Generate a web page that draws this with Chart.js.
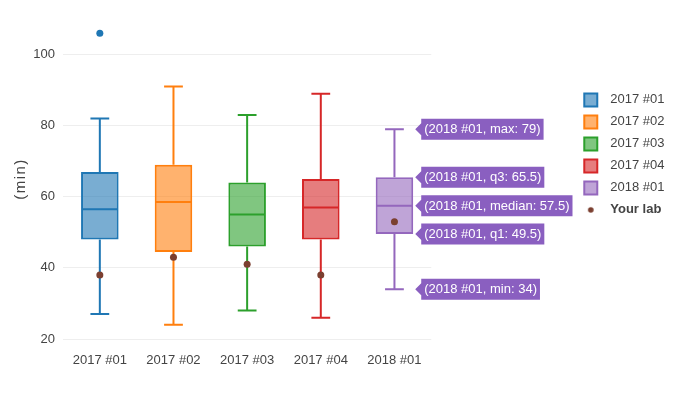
<!DOCTYPE html>
<html>
<head>
<meta charset="utf-8">
<script src="https://cdn.jsdelivr.net/npm/chart.js@4.4.1/dist/chart.umd.min.js"></script>
<style>
    html, body { margin: 0; padding: 0; background: #fff; }
    #wrap { width: 689px; height: 396px; }
</style>
</head>
<body>
<div id="wrap"><canvas id="boxChart"></canvas></div>
<script>
const categories = ['2017 #01', '2017 #02', '2017 #03', '2017 #04', '2018 #01'];
const mins = [27, 24, 28, 26, 34];
const q1s = [48, 44.5, 46, 48, 49.5];
const medians = [56.5, 58.5, 55, 57, 57.5];
const q3s = [67, 69, 64, 65, 65.5];
const maxs = [82, 91, 83, 89, 79];
const outliers = [106, null, null, null, null];
const yourLab = [38, 43, 41, 38, 53];
const yTicks = [20, 40, 60, 80, 100];

const colors = ['#1f77b4', '#ff7f0e', '#2ca02c', '#d62728', '#9467bd'];
const fills = ['rgba(31,119,180,0.6)', 'rgba(255,127,14,0.6)', 'rgba(44,160,44,0.6)', 'rgba(214,39,40,0.6)', 'rgba(148,103,189,0.6)'];
const labColor = '#7b3f30';
const hoverColor = '#8a5fc0';
const fontFamily = '"Liberation Sans", Arial, Helvetica, sans-serif';

// small dot for the "Your lab" legend entry
const dot = document.createElement('canvas');
dot.width = 8;
dot.height = 8;
const dctx = dot.getContext('2d');
dctx.fillStyle = labColor;
dctx.beginPath();
dctx.arc(4, 4, 2.8, 0, Math.PI * 2);
dctx.fill();

const boxDatasets = categories.map((name, i) => ({
    type: 'bar',
    label: name,
    data: categories.map((_, j) => (j === i ? [q1s[i], q3s[i]] : null)),
    backgroundColor: fills[i],
    borderColor: colors[i],
    borderWidth: 2,
    borderSkipped: false,
    grouped: false,
    categoryPercentage: 1,
    barPercentage: 0.51,
    order: 1,
}));

const whiskers = {
    id: 'whiskers',
    afterDatasetDraw(chart, args) {
        const i = args.index;
        if (i >= categories.length) {
            return;
        }
        const bar = args.meta.data[i];
        if (!bar) {
            return;
        }
        const y = chart.scales.y;
        const ctx = chart.ctx;
        const half = bar.width / 2;
        const cap = half / 2;
        ctx.save();
        ctx.strokeStyle = colors[i];
        ctx.lineWidth = 2;
        ctx.beginPath();
        ctx.moveTo(bar.x, y.getPixelForValue(q3s[i]));
        ctx.lineTo(bar.x, y.getPixelForValue(maxs[i]));
        ctx.moveTo(bar.x, y.getPixelForValue(q1s[i]));
        ctx.lineTo(bar.x, y.getPixelForValue(mins[i]));
        ctx.moveTo(bar.x - cap, y.getPixelForValue(maxs[i]));
        ctx.lineTo(bar.x + cap, y.getPixelForValue(maxs[i]));
        ctx.moveTo(bar.x - cap, y.getPixelForValue(mins[i]));
        ctx.lineTo(bar.x + cap, y.getPixelForValue(mins[i]));
        ctx.moveTo(bar.x - half + 1, y.getPixelForValue(medians[i]));
        ctx.lineTo(bar.x + half - 1, y.getPixelForValue(medians[i]));
        ctx.stroke();
        ctx.restore();
    }
};

const extras = {
    id: 'extras',
    afterDraw(chart) {
        const ctx = chart.ctx;
        const y = chart.scales.y;

        // y axis title with letter spacing
        ctx.save();
        ctx.translate(21, (chart.chartArea.top + chart.chartArea.bottom) / 2);
        ctx.rotate(-Math.PI / 2);
        ctx.font = '15px ' + fontFamily;
        ctx.letterSpacing = '1.5px';
        ctx.fillStyle = '#444';
        ctx.textAlign = 'center';
        ctx.textBaseline = 'middle';
        ctx.fillText('(min)', 0, 0);
        ctx.restore();

        // hover labels on the last box
        const last = categories.length - 1;
        const bar = chart.getDatasetMeta(last).data[last];
        const name = categories[last];
        const labels = [
            ['max', maxs[last]],
            ['q3', q3s[last]],
            ['median', medians[last]],
            ['q1', q1s[last]],
            ['min', mins[last]],
        ];
        const x0 = bar.x + bar.width / 2 + 2;
        ctx.save();
        ctx.font = '13px ' + fontFamily;
        ctx.textBaseline = 'middle';
        labels.forEach(([key, value]) => {
            const text = `(${name}, ${key}: ${value})`;
            const yy = y.getPixelForValue(value);
            const w = ctx.measureText(text).width + 6;
            const h = 21;
            ctx.fillStyle = hoverColor;
            ctx.beginPath();
            ctx.moveTo(x0, yy);
            ctx.lineTo(x0 + 6, yy - 6);
            ctx.lineTo(x0 + 6, yy - h / 2);
            ctx.lineTo(x0 + 6 + w, yy - h / 2);
            ctx.lineTo(x0 + 6 + w, yy + h / 2);
            ctx.lineTo(x0 + 6, yy + h / 2);
            ctx.lineTo(x0 + 6, yy + 6);
            ctx.closePath();
            ctx.fill();
            ctx.fillStyle = '#fff';
            ctx.fillText(text, x0 + 9, yy + 0.5);
        });
        ctx.restore();

        // legend texts, drawn a little further from the swatches
        const legend = chart.legend;
        if (legend && legend.legendHitBoxes) {
            ctx.save();
            ctx.fillStyle = '#444';
            ctx.textBaseline = 'middle';
            legend.legendItems.forEach((item, i) => {
                const hb = legend.legendHitBoxes[i];
                ctx.font = (i === categories.length ? 'bold ' : '') + '13px ' + fontFamily;
                ctx.fillText(item.text, hb.left + 26, hb.top + hb.height / 2);
            });
            ctx.restore();
        }
    }
};

new Chart(document.getElementById('boxChart'), {
    data: {
        labels: categories,
        datasets: [
            ...boxDatasets,
            {
                type: 'line',
                label: 'outliers',
                data: outliers,
                showLine: false,
                pointRadius: 3.5,
                pointBorderWidth: 0,
                pointBackgroundColor: colors[0],
                order: 0,
            },
            {
                type: 'line',
                label: 'Your lab',
                data: yourLab,
                showLine: false,
                pointRadius: 3.5,
                pointBorderWidth: 0,
                pointBackgroundColor: labColor,
                order: 0,
            }
        ]
    },
    options: {
        responsive: true,
        maintainAspectRatio: false,
        animation: false,
        events: [],
        layout: {
            padding: { top: 19, right: 21, left: 0, bottom: 0 }
        },
        scales: {
            x: {
                grid: { display: false },
                border: { display: false },
                ticks: {
                    color: '#444',
                    padding: 6,
                    font: { size: 13, family: fontFamily }
                },
                afterFit: (s) => { s.height = 57; }
            },
            y: {
                min: 20,
                max: 110,
                grid: { color: '#eeeeee', lineWidth: 1, drawTicks: false },
                border: { display: false },
                ticks: {
                    color: '#444',
                    padding: 8,
                    font: { size: 13, family: fontFamily }
                },
                afterBuildTicks: (s) => { s.ticks = yTicks.map((v) => ({ value: v })); },
                afterFit: (s) => { s.width = 63; }
            },
            gap: {
                type: 'linear',
                position: 'right',
                grid: { display: false },
                border: { display: false },
                ticks: { display: false },
                afterFit: (s) => { s.width = 144; }
            }
        },
        plugins: {
            tooltip: { enabled: false },
            legend: {
                position: 'right',
                align: 'start',
                title: { display: true, text: '', padding: { top: 51, bottom: 0 }, font: { size: 12 } },
                labels: {
                    usePointStyle: true,
                    boxWidth: 13,
                    boxHeight: 13,
                    padding: 9,
                    color: '#444',
                    font: { size: 13, family: fontFamily },
                    generateLabels: () => {
                        const items = categories.map((name, i) => ({
                            text: name,
                            fillStyle: fills[i],
                            strokeStyle: colors[i],
                            lineWidth: 2,
                            pointStyle: 'rect',
                            hidden: false,
                            datasetIndex: i,
                            fontColor: 'rgba(0,0,0,0)',
                        }));
                        items.push({
                            text: 'Your lab',
                            fillStyle: labColor,
                            strokeStyle: labColor,
                            lineWidth: 0,
                            pointStyle: dot,
                            hidden: false,
                            datasetIndex: categories.length + 1,
                            fontColor: 'rgba(0,0,0,0)',
                        });
                        return items;
                    }
                }
            }
        }
    },
    plugins: [whiskers, extras]
});
</script>
</body>
</html>
